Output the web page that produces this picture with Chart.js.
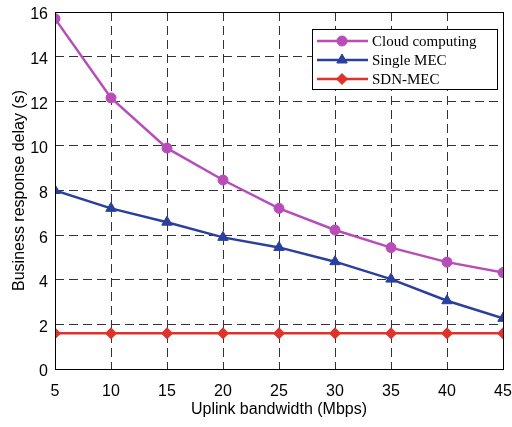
<!DOCTYPE html>
<html>
<head>
<meta charset="utf-8">
<script src="https://cdn.jsdelivr.net/npm/chart.js@4"></script>
<style>
  html, body { margin: 0; padding: 0; background: #fff; }
  #wrap { width: 512px; height: 427px; }
</style>
</head>
<body>
<div id="wrap"><canvas id="chart" width="512" height="427"></canvas></div>
<script>
const bandwidth = [5, 10, 15, 20, 25, 30, 35, 40, 45];
const cloudComputing = [15.7, 12.15, 9.9, 8.47, 7.2, 6.23, 5.44, 4.79, 4.32];
const singleMec = [8.0, 7.2, 6.58, 5.9, 5.45, 4.81, 4.03, 3.06, 2.27];
const sdnMec = [1.6, 1.6, 1.6, 1.6, 1.6, 1.6, 1.6, 1.6, 1.6];
const seriesNames = ['Cloud computing', 'Single MEC', 'SDN-MEC'];

const colors = ['#b84db8', '#2a3f9e', '#e0322a'];
const markers = ['circle', 'triangle', 'rectRot'];
const radii = [5, 6, 5.5];

const toPoints = (vals) => vals.map((v, i) => ({ x: bandwidth[i], y: v }));

// frame + inside legend
const framePlugin = {
    id: 'frame',
    afterDatasetsDraw(chart) {
        const { ctx, chartArea: a } = chart;
        ctx.save();
        ctx.strokeStyle = '#000';
        ctx.lineWidth = 1;
        ctx.strokeRect(a.left + 0.5, a.top + 0.5, a.right - a.left, a.bottom - a.top);

        // legend box
        const bx = 312, by = 29, bw = 185, bh = 60;
        ctx.fillStyle = '#fff';
        ctx.fillRect(bx, by, bw, bh);
        ctx.strokeRect(bx + 0.5, by + 0.5, bw, bh);
        ctx.font = '15px "Liberation Serif", "Times New Roman", serif';
        ctx.textBaseline = 'middle';
        seriesNames.forEach((name, i) => {
            const y = by + 12 + i * 19;
            ctx.strokeStyle = colors[i];
            ctx.lineWidth = 2.5;
            ctx.beginPath();
            ctx.moveTo(bx + 5, y);
            ctx.lineTo(bx + 56, y);
            ctx.stroke();
            ctx.lineWidth = 1;
            ctx.fillStyle = colors[i];
            Chart.helpers.drawPoint(ctx, { pointStyle: markers[i], radius: radii[i], borderWidth: 1 }, bx + 30, y);
            ctx.fillStyle = '#000';
            ctx.fillText(name, bx + 60, y + 1);
        });
        ctx.restore();
    }
};

const datasets = [cloudComputing, singleMec, sdnMec].map((vals, i) => ({
    label: seriesNames[i],
    data: toPoints(vals),
    borderColor: colors[i],
    backgroundColor: colors[i],
    borderWidth: 2.5,
    pointStyle: markers[i],
    pointRadius: radii[i],
    pointBorderWidth: 1,
    tension: 0
}));

const tickFont = { family: '"Liberation Sans", Arial, sans-serif', size: 16 };

new Chart(document.getElementById('chart'), {
    type: 'line',
    data: { datasets: datasets },
    options: {
        responsive: false,
        animation: false,
        layout: { padding: { left: 0, right: 9, top: 12, bottom: 0 } },
        plugins: {
            legend: { display: false },
            tooltip: { enabled: false }
        },
        scales: {
            x: {
                type: 'linear',
                min: 5,
                max: 45,
                ticks: { stepSize: 5, color: '#000', font: tickFont, padding: 13 },
                grid: { color: '#333', lineWidth: 1, drawTicks: false },
                border: { display: false, dash: [9, 5] },
                title: {
                    display: true,
                    text: 'Uplink bandwidth (Mbps)',
                    color: '#000',
                    font: tickFont,
                    padding: { top: 0, bottom: 8 }
                },
                afterFit(scale) {
                    scale.height = 58;
                    scale.paddingLeft = 0;
                    scale.paddingRight = 0;
                }
            },
            y: {
                min: 0,
                max: 16,
                ticks: { stepSize: 2, color: '#000', font: tickFont, padding: 7, labelOffset: 3 },
                grid: { color: '#333', lineWidth: 1, drawTicks: false },
                border: { display: false, dash: [9, 5] },
                title: {
                    display: true,
                    text: 'Business response delay (s)',
                    color: '#000',
                    font: tickFont,
                    padding: { top: 10, bottom: 4 }
                },
                afterFit(scale) {
                    scale.width = 55;
                    scale.paddingTop = 0;
                    scale.paddingBottom = 0;
                }
            }
        }
    },
    plugins: [framePlugin]
});
</script>
</body>
</html>
